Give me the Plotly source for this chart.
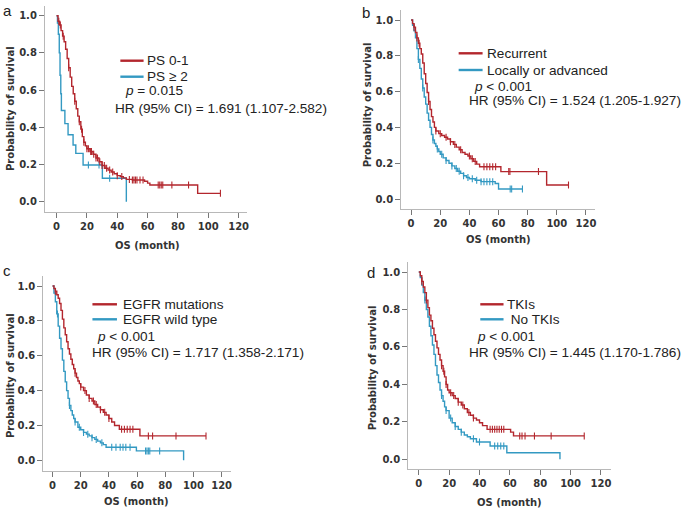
import numpy as np
import plotly.graph_objects as go

W, H = 685, 512
RED = "#b3262d"
BLUE = "#3399c2"

OS_TICKS = [0, 20, 40, 60, 80, 100, 120]
SURV_TICKS = [0.0, 0.2, 0.4, 0.6, 0.8, 1.0]
SURV_LABELS = ["0.0", "0.2", "0.4", "0.6", "0.8", "1.0"]

# ---- panel a : performance status ----
a_red_t = [0, 1, 2, 3, 4, 5, 6, 7, 8, 9, 10, 11, 12, 13, 14, 15, 16, 17, 18, 19, 20, 22, 24, 26, 28, 30,
           32, 34, 36, 38, 40, 42, 44, 46, 50, 58, 60, 61.5, 93]
a_red_s = [1.0, 0.97, 0.95, 0.92, 0.89, 0.86, 0.82, 0.77, 0.72, 0.67, 0.62, 0.58, 0.54, 0.50, 0.46, 0.43,
           0.39, 0.35, 0.32, 0.30, 0.285, 0.27, 0.255, 0.235, 0.215, 0.195, 0.18, 0.17, 0.16, 0.15, 0.14,
           0.135, 0.128, 0.12, 0.117, 0.11, 0.10, 0.09, 0.045]
a_red_cens = [1.5, 2.5, 4.4, 8, 12, 15, 16.5, 18, 20, 21, 22.5, 23, 24.5, 26, 27, 28.5, 30, 31.5, 33, 35,
              37, 40, 43, 48, 50, 51, 52, 53, 55, 57, 67, 68, 69, 70, 76, 87, 108]
a_blue_t = [0, 0.6, 1.2, 1.8, 2.3, 2.8, 3.2, 5.5, 7.6, 10.9, 12.7, 17.5, 30.2, 46]
a_blue_s = [1.0, 0.96, 0.90, 0.80, 0.68, 0.58, 0.49, 0.42, 0.36, 0.305, 0.26, 0.197, 0.126, 0.0]
a_blue_cens = [21, 28, 35]

# ---- panel b : recurrent vs locally advanced ----
b_red_t = [0, 1, 2, 3, 4, 5, 6, 7, 8, 9, 10, 11, 12, 13, 14, 15, 16, 17, 19, 21, 23, 25, 27, 29, 31, 33,
           35, 37, 39, 41, 43, 45, 47, 61.6, 93]
b_red_s = [1.0, 0.98, 0.96, 0.93, 0.90, 0.87, 0.84, 0.81, 0.76, 0.70, 0.645, 0.595, 0.545, 0.50, 0.46,
           0.43, 0.40, 0.38, 0.365, 0.355, 0.345, 0.335, 0.32, 0.305, 0.29, 0.275, 0.26, 0.25, 0.24,
           0.225, 0.21, 0.195, 0.18, 0.153, 0.078]
b_red_cens = [2, 4, 5.5, 12, 17, 20, 24, 27, 30, 34, 40, 42, 44, 50, 52, 54, 56, 58, 67, 67.8, 87.4, 108]
b_blue_t = [0, 1, 2, 3, 4, 5, 6, 7, 8, 9, 10, 11, 12, 13, 14, 15, 16, 17, 18, 19, 20, 22, 24, 26, 28, 30,
            32, 34, 36, 38, 40, 44, 48, 57.7, 60]
b_blue_s = [1.0, 0.97, 0.94, 0.90, 0.84, 0.78, 0.73, 0.67, 0.62, 0.57, 0.53, 0.48, 0.44, 0.40, 0.36, 0.33,
            0.31, 0.295, 0.28, 0.265, 0.25, 0.23, 0.215, 0.20, 0.185, 0.17, 0.155, 0.143, 0.13, 0.12,
            0.113, 0.105, 0.097, 0.087, 0.056]
b_blue_cens = [5, 8, 15, 18, 21, 24, 28, 31, 33, 36, 39, 42, 45, 48, 50, 52, 54, 56, 68, 69, 76.4]

# ---- panel c : EGFR ----
c_red_t = [0, 1, 2, 3, 4, 5, 6, 7, 8, 9, 10, 11, 12, 13, 14, 15, 16, 17, 18, 19, 20, 22, 24, 26, 28, 30,
           32, 34, 36, 38, 40, 42, 44, 47.4, 62]
c_red_s = [1.0, 0.985, 0.97, 0.95, 0.93, 0.90, 0.86, 0.81, 0.76, 0.72, 0.68, 0.64, 0.61, 0.58, 0.55, 0.525,
           0.50, 0.475, 0.455, 0.44, 0.42, 0.40, 0.375, 0.355, 0.34, 0.32, 0.305, 0.29, 0.275, 0.26,
           0.24, 0.22, 0.20, 0.178, 0.14]
c_red_cens = [2, 16, 20, 23, 26, 29, 31, 34, 37, 40, 49, 51, 53, 55, 57, 68, 71, 87.6, 108.9]
c_blue_t = [0, 1, 2, 3, 4, 5, 6, 7, 8, 9, 10, 11, 12, 13, 14, 15, 16, 18, 20, 22, 24, 26, 28, 30, 32, 34,
            36, 38, 59.5, 93]
c_blue_s = [1.0, 0.96, 0.91, 0.84, 0.77, 0.70, 0.64, 0.575, 0.51, 0.45, 0.40, 0.355, 0.315, 0.285, 0.26,
            0.24, 0.22, 0.19, 0.175, 0.16, 0.15, 0.14, 0.13, 0.12, 0.11, 0.10, 0.09, 0.075, 0.054, 0.0]
c_blue_cens = [3.5, 12, 16, 19, 22, 25, 28, 31, 35, 42, 45, 48, 50, 52, 55, 66, 67, 68, 69, 76]

# ---- panel d : TKIs ----
d_red_t = [0, 1, 2, 3, 4, 5, 6, 7, 8, 9, 10, 11, 12, 13, 14, 15, 16, 17, 18, 19, 20, 22, 24, 26, 28, 30,
           32, 34, 36, 38, 40, 42, 45, 60.5, 62.4]
d_red_s = [1.0, 0.98, 0.95, 0.92, 0.89, 0.85, 0.81, 0.77, 0.74, 0.70, 0.665, 0.63, 0.595, 0.56, 0.53, 0.50,
           0.47, 0.44, 0.40, 0.37, 0.355, 0.34, 0.325, 0.305, 0.29, 0.27, 0.25, 0.235, 0.22, 0.21, 0.195,
           0.18, 0.16, 0.145, 0.125]
d_red_cens = [2, 5, 15, 16.5, 18, 21, 23, 26, 29, 33, 36, 47, 48.5, 50, 51.5, 53, 54.5, 56, 66.5, 68, 70,
              76.2, 87.2, 109]
d_blue_t = [0, 1, 2, 3, 4, 5, 6, 7, 8, 9, 10, 11, 12, 13, 14, 15, 16, 17, 18, 20, 22, 24, 26, 28, 30, 32,
            34, 38, 47, 58, 93]
d_blue_s = [1.0, 0.97, 0.93, 0.89, 0.85, 0.80, 0.76, 0.71, 0.66, 0.61, 0.56, 0.50, 0.45, 0.41, 0.37, 0.34,
            0.31, 0.28, 0.26, 0.22, 0.195, 0.175, 0.16, 0.145, 0.13, 0.12, 0.11, 0.092, 0.071, 0.035, 0.0]
d_blue_cens = [4, 15, 18, 21, 24, 28, 36, 40, 50, 52, 54, 56]

panel_letters = ["a", "b", "c", "d"]
legend_red = ["PS 0-1", "Recurrent", "EGFR mutations", "TKIs"]
legend_blue = ["PS \u2265 2", "Locally or advanced", "EGFR wild type", " No TKIs"]
p_texts = ["<i>p</i> = 0.015", "<i>p</i> < 0.001", "<i>p</i> < 0.001", "<i>p</i> < 0.001"]
hr_texts = ["HR (95% CI) = 1.691 (1.107-2.582)", "HR (95% CI) = 1.524 (1.205-1.927)",
            "HR (95% CI) = 1.717 (1.358-2.171)", "HR (95% CI) = 1.445 (1.170-1.786)"]

curves = [
    [(a_blue_t, a_blue_s, a_blue_cens, BLUE), (a_red_t, a_red_s, a_red_cens, RED)],
    [(b_blue_t, b_blue_s, b_blue_cens, BLUE), (b_red_t, b_red_s, b_red_cens, RED)],
    [(c_blue_t, c_blue_s, c_blue_cens, BLUE), (c_red_t, c_red_s, c_red_cens, RED)],
    [(d_blue_t, d_blue_s, d_blue_cens, BLUE), (d_red_t, d_red_s, d_red_cens, RED)],
]

# pixel calibration of each panel: x0, px/month, y0, px/unit, left, right, bottom, top
cal = [
    (56.7, 1.522, 201.7, 186.0, 45.0, 248.0, 212.0, 6.0),
    (412.3, 1.4617, 199.0, 179.0, 402.3, 597.0, 209.0, 10.0),
    (52.7, 1.4133, 460.3, 174.3, 43.3, 232.0, 471.0, 276.0),
    (420.0, 1.5225, 459.3, 187.3, 409.3, 613.0, 469.3, 262.0),
]
# annotation pixel positions
letter_pos = [(8, 10), (366.7, 12), (7.5, 270), (372, 272)]
ytitle_pos = [(10, 108), (368.3, 105), (10, 375), (373.3, 368)]
xtitle_pos = [(147.7, 245), (500, 239), (137.3, 501), (511, 502)]
leg_line = [(120.7, 144, 60.7, 76.7), (460, 484, 53.3, 70), (92.7, 117.3, 304.3, 319.3), (481.7, 505, 304.3, 319.3)]
leg_text_x = [145, 486.7, 121.7, 506.7]
p_pos = [(123.3, 90.7), (473.3, 86), (95, 336), (476.7, 336)]
hr_pos = [(113.3, 108.3), (468.3, 100), (90, 352.7), (468.3, 352.7)]


def fx(x):
    return x / W


def fy(y):
    return 1 - y / H


fig = go.Figure()
tick_font = dict(family="DejaVu Sans", size=10, color="#333333", weight="bold")
title_font = dict(family="DejaVu Sans", size=10, color="#333333")
txt_font = dict(family="Liberation Sans, Arial", size=13.6, color="#222222")
annotations = []
shapes = []

for k in range(4):
    n = "" if k == 0 else str(k + 1)
    x0, ppm, y0, ppu, left, right, bottom, top = cal[k]
    xr = [(left - x0) / ppm, (right - x0) / ppm]
    yr = [(y0 - bottom) / ppu, (y0 - top) / ppu]
    fig.update_layout(**{
        "xaxis" + n: dict(domain=[fx(left), fx(right)], range=xr, anchor="y" + n, tickvals=OS_TICKS,
                          showgrid=False, zeroline=False, showline=True, linecolor="#b8b8b8", linewidth=1,
                          ticks="outside", ticklen=5, tickcolor="#777777", tickfont=tick_font),
        "yaxis" + n: dict(domain=[fy(bottom), fy(top)], range=yr, anchor="x" + n, tickvals=SURV_TICKS,
                          ticktext=SURV_LABELS, showgrid=False, zeroline=False, showline=True,
                          linecolor="#b8b8b8", linewidth=1, ticks="outside", ticklen=5,
                          tickcolor="#777777", tickfont=tick_font),
    })
    for t, s, cens, col in curves[k]:
        xs = list(t)
        ys = list(s)
        if cens and max(cens) > t[-1]:
            xs.append(max(cens))
            ys.append(s[-1])
        fig.add_trace(go.Scatter(x=xs, y=ys, mode="lines", line=dict(color=col, width=1.4, shape="hv"),
                                 xaxis="x" + n, yaxis="y" + n, showlegend=False, hoverinfo="skip"))
        idx = np.searchsorted(np.array(t), np.array(cens), side="right") - 1
        cy = [s[i] for i in idx]
        fig.add_trace(go.Scatter(x=cens, y=cy, mode="markers",
                                 marker=dict(symbol="line-ns", size=5, line=dict(color=col, width=1.1)),
                                 xaxis="x" + n, yaxis="y" + n, showlegend=False, hoverinfo="skip"))

    lx, ly = letter_pos[k]
    annotations.append(dict(x=fx(lx), y=fy(ly), xref="paper", yref="paper", text=panel_letters[k],
                            showarrow=False, font=dict(family="Liberation Sans, Arial", size=15, color="#222"),
                            xanchor="center", yanchor="middle"))
    tx, ty = ytitle_pos[k]
    annotations.append(dict(x=fx(tx), y=fy(ty), xref="paper", yref="paper", text="<b>Probability of survival</b>",
                            textangle=-90, showarrow=False, xanchor="center", yanchor="middle",
                            font=title_font))
    tx, ty = xtitle_pos[k]
    annotations.append(dict(x=fx(tx), y=fy(ty), xref="paper", yref="paper", text="<b>OS (month)</b>",
                            showarrow=False, xanchor="center", yanchor="middle", font=title_font))
    x1, x2, yr1, yb1 = leg_line[k]
    shapes.append(dict(type="line", xref="paper", yref="paper", x0=fx(x1), x1=fx(x2), y0=fy(yr1), y1=fy(yr1),
                       line=dict(color=RED, width=2.4)))
    shapes.append(dict(type="line", xref="paper", yref="paper", x0=fx(x1), x1=fx(x2), y0=fy(yb1), y1=fy(yb1),
                       line=dict(color=BLUE, width=2.4)))
    annotations.append(dict(x=fx(leg_text_x[k]), y=fy(yr1), xref="paper", yref="paper", text=legend_red[k],
                            showarrow=False, xanchor="left", yanchor="middle", font=txt_font))
    annotations.append(dict(x=fx(leg_text_x[k]), y=fy(yb1), xref="paper", yref="paper", text=legend_blue[k],
                            showarrow=False, xanchor="left", yanchor="middle", font=txt_font))
    px_, py_ = p_pos[k]
    annotations.append(dict(x=fx(px_), y=fy(py_), xref="paper", yref="paper", text=p_texts[k],
                            showarrow=False, xanchor="left", yanchor="middle", font=txt_font))
    hx, hy = hr_pos[k]
    annotations.append(dict(x=fx(hx), y=fy(hy), xref="paper", yref="paper", text=hr_texts[k],
                            showarrow=False, xanchor="left", yanchor="middle", font=txt_font))

fig.update_layout(width=W, height=H, margin=dict(l=0, r=0, t=0, b=0), paper_bgcolor="white",
                  plot_bgcolor="white", annotations=annotations, shapes=shapes, showlegend=False)
# page body has a default 8px margin; drop it so the figure sits at the window's corner
fig.write_html("out.html", config={"displayModeBar": False},
               post_script="document.body.style.margin='0';")
